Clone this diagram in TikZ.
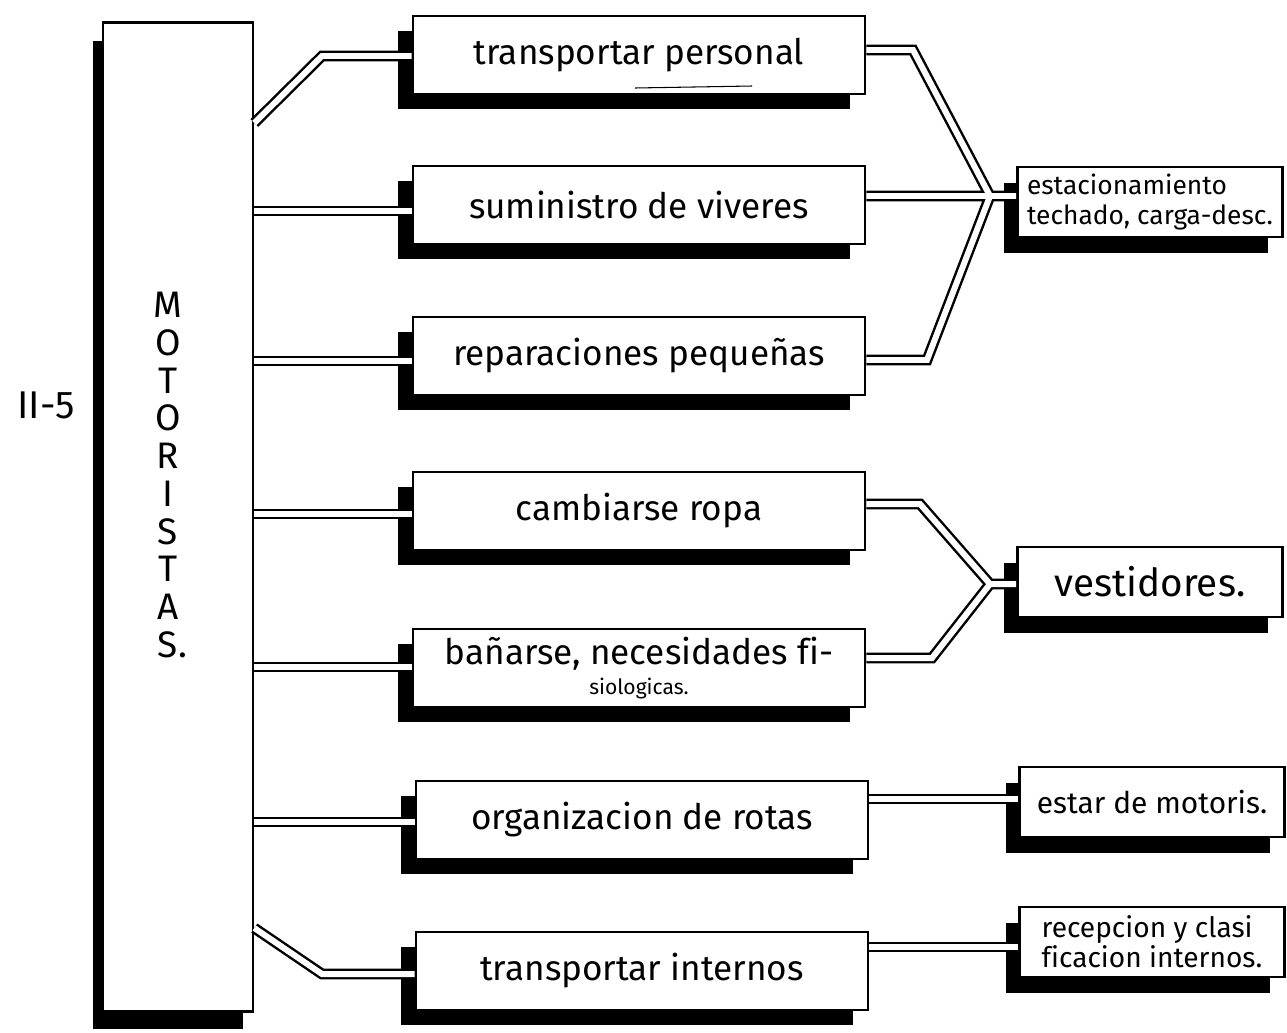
\documentclass[tikz,border=0pt]{standalone}
\usepackage{fontspec}
\setmainfont{Fira Sans}[Ligatures=NoCommon]
\usetikzlibrary{shadows}

\begin{document}
\begin{tikzpicture}[x=0.02cm,y=-0.02cm]
\tikzset{
  boxline/.style={draw=black,line width=1.5pt,fill=white,inner sep=2pt},
  mainbox/.style={boxline,minimum width=3.0cm,minimum height=19.78cm,
    drop shadow={shadow xshift=-0.2cm,shadow yshift=-0.36cm,fill=black,opacity=1}},
  taskbox/.style={boxline,minimum width=9.04cm,minimum height=1.56cm,font=\fontsize{20}{22}\selectfont,
    drop shadow={shadow xshift=-0.3cm,shadow yshift=-0.3cm,fill=black,opacity=1}},
  placebox/.style={boxline,minimum width=5.3cm,minimum height=1.4cm,align=left,
    drop shadow={shadow xshift=-0.28cm,shadow yshift=-0.32cm,fill=black,opacity=1}},
  pipe/.style={draw=black,line width=1.4pt,double=white,double distance=3.4pt,line join=miter}
}
\useasboundingbox (0,0) rectangle (1287,1032);
\node[mainbox] (n_mot) at (178,517) {};
\node[font=\fontsize{21}{21.5}\selectfont,align=center] (n_motlbl) at (168,475) {M\\O\\T\\O\\R\\I\\S\\T\\A\\S\rlap{.}};
\node[font=\fontsize{22}{24}\selectfont] (n_sec) at (46,405) {II-5};
\node[taskbox] (n_tp) at (639,55) {transportar personal};
\node[taskbox] (n_sv) at (639,205) {suministro de viveres};
\node[taskbox] (n_rp) at (639,356) {reparaciones pequeñas};
\node[taskbox] (n_cr) at (639,511) {cambiarse ropa};
\node[taskbox,align=center] (n_bn) at (639,668) {bañarse, necesidades fi-\\[-5pt]{\fontsize{12}{12}\selectfont siologicas.}};
\node[taskbox] (n_or) at (642,820) {organizacion de rotas};
\node[taskbox] (n_ti) at (642,971) {transportar internos};
\node[placebox,font=\fontsize{15}{17}\selectfont] (n_est) at (1150,202) {estacionamiento\\techado, carga-desc.};
\node[placebox,font=\fontsize{22}{24}\selectfont] (n_ves) at (1150,582) {vestidores.};
\node[placebox,font=\fontsize{17}{19}\selectfont] (n_sta) at (1152,802) {estar de motoris.};
\node[placebox,font=\fontsize{16}{17}\selectfont] (n_rec) at (1152,942) {recepcion y clasi\\ficacion internos.};
\draw[line width=0.6pt] (635,88) -- (752,86);
% motoristas to tasks
\draw[pipe] (n_mot.east |- 0,123) -- (322,56) -- (n_tp.west |- 0,56);
\draw[pipe] (n_mot.east |- 0,211) -- (n_sv.west |- 0,211);
\draw[pipe] (n_mot.east |- 0,361) -- (n_rp.west |- 0,361);
\draw[pipe] (n_mot.east |- 0,514) -- (n_cr.west |- 0,514);
\draw[pipe] (n_mot.east |- 0,667) -- (n_bn.west |- 0,667);
\draw[pipe] (n_mot.east |- 0,822) -- (n_or.west |- 0,822);
\draw[pipe] (n_mot.east |- 0,928) -- (322,974) -- (n_ti.west |- 0,974);
% tasks to places
\draw[pipe] (n_tp.east |- 0,50) -- (913,50) -- (990,196) -- (n_est.west |- 0,196)
  (n_sv.east |- 0,196) -- (n_est.west |- 0,196)
  (n_rp.east |- 0,360) -- (927,360) -- (990,196) -- (n_est.west |- 0,196);
\draw[pipe] (n_cr.east |- 0,504) -- (920,504) -- (990,584) -- (n_ves.west |- 0,584)
  (n_bn.east |- 0,658) -- (932,658) -- (990,584) -- (n_ves.west |- 0,584);
\draw[pipe] (n_or.east |- 0,799) -- (n_sta.west |- 0,799);
\draw[pipe] (n_ti.east |- 0,947) -- (n_rec.west |- 0,947);
\end{tikzpicture}
\end{document}
